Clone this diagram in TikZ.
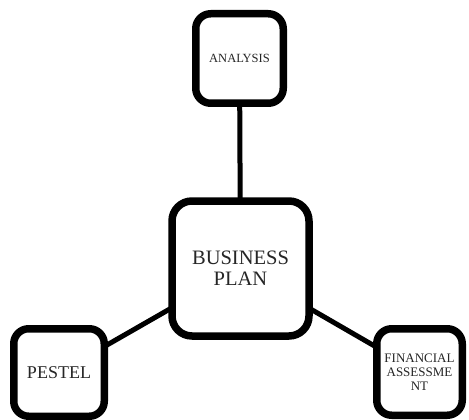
\documentclass[tikz,border=0pt]{standalone}
\usepackage{fontspec}
\setmainfont{Liberation Serif}
\usetikzlibrary{shadows,backgrounds}
\tikzset{
  boxnode/.style={draw=black, fill=white, line width=7.5pt, rounded corners=15pt,
    align=center, inner sep=2pt, text=black!85,
    drop shadow={shadow xshift=1.5pt, shadow yshift=-2pt, opacity=0.25}},
  link/.style={draw=black, line width=5pt}
}
\begin{document}
\begin{tikzpicture}[x=1pt,y=-1pt]
\useasboundingbox (0,0) rectangle (469,420);
\node[boxnode, minimum width=87.5pt, minimum height=89.5pt, font=\fontsize{12.5}{14}\selectfont] (analysis) at (239.5,58.5) {ANALYSIS};
\node[boxnode, rounded corners=20pt, minimum width=137pt, minimum height=135pt, font=\fontsize{20.5}{21}\selectfont] (bp) at (240.5,268.5) {BUSINESS\\PLAN};
\node[boxnode, minimum width=90.5pt, minimum height=87.5pt, font=\fontsize{18}{20}\selectfont] (pestel) at (59,372.5) {PESTEL};
\node[boxnode, minimum width=85.5pt, minimum height=86.5pt, font=\fontsize{13}{14}\selectfont] (fin) at (419.5,372) {FINANCIAL\\ASSESSME\\NT};
\begin{scope}[on background layer]
\draw[link] (analysis.center) -- (bp.center);
\draw[link] (pestel.center) -- (bp.center);
\draw[link] (fin.center) -- (bp.center);
\end{scope}
\end{tikzpicture}
\end{document}
